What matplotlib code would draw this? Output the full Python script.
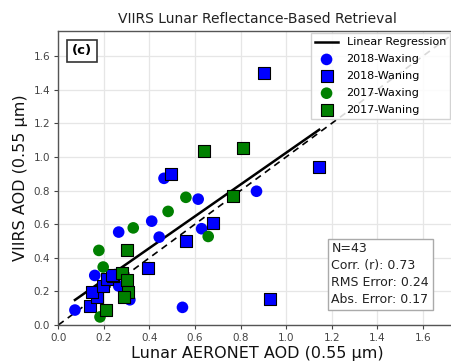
import matplotlib
matplotlib.use("Agg")
import matplotlib.pyplot as plt
import numpy as np

# Lunar AERONET AOD (x) vs VIIRS AOD (y), 0.55 um
waxing_2018_x = [0.073, 0.160, 0.250, 0.265, 0.314, 0.265, 0.410, 0.443, 0.464, 0.614, 0.629, 0.870, 0.545]
waxing_2018_y = [0.089, 0.295, 0.300, 0.232, 0.150, 0.553, 0.618, 0.523, 0.873, 0.749, 0.573, 0.796, 0.105]

waning_2018_x = [0.139, 0.171, 0.148, 0.197, 0.215, 0.240, 0.395, 0.560, 0.677, 0.493, 0.902, 1.145, 0.930, 0.235]
waning_2018_y = [0.116, 0.165, 0.195, 0.234, 0.271, 0.290, 0.340, 0.500, 0.610, 0.899, 1.501, 0.938, 0.152, 0.300]

waxing_2017_x = [0.178, 0.197, 0.183, 0.329, 0.482, 0.560, 0.658]
waxing_2017_y = [0.444, 0.345, 0.048, 0.578, 0.676, 0.760, 0.527]

waning_2017_x = [0.300, 0.280, 0.300, 0.307, 0.290, 0.209, 0.639, 0.809, 0.767]
waning_2017_y = [0.449, 0.308, 0.265, 0.197, 0.168, 0.087, 1.037, 1.053, 0.770]

# Linear regression of VIIRS on AERONET
reg_slope = 0.945
reg_intercept = 0.08

stats_lines = ["N=43", "Corr. (r): 0.73", "RMS Error: 0.24", "Abs. Error: 0.17"]

fig = plt.figure(figsize=(4.52, 3.63), dpi=100)
ax = fig.add_axes([0.129, 0.1047, 0.882, 0.81])

axis_max = 1.75
ax.set_xlim(0, axis_max)
ax.set_ylim(0, axis_max)
ax.set_xticks(np.arange(0, 1.61, 0.2))
ax.set_yticks(np.arange(0, 1.61, 0.2))
ax.grid(True, color="#e6e6e6", linewidth=0.9, zorder=0)
ax.set_axisbelow(True)

all_x = waxing_2018_x + waning_2018_x + waxing_2017_x + waning_2017_x
xr = np.array([min(all_x), max(all_x)])
ax.plot(xr, reg_intercept + reg_slope * xr, color="black", lw=1.8,
        label="Linear Regression", zorder=2)
ax.plot([0, axis_max], [0, axis_max], color="black", lw=1.2,
        linestyle=(0, (4, 3)), zorder=2)

ax.scatter(waxing_2018_x, waxing_2018_y, s=70, marker="o", color="#0000ff",
           edgecolors="none", label="2018-Waxing", zorder=3)
ax.scatter(waning_2018_x, waning_2018_y, s=64, marker="s", color="#0000ff",
           edgecolors="black", linewidths=0.8, label="2018-Waning", zorder=3)
ax.scatter(waxing_2017_x, waxing_2017_y, s=70, marker="o", color="#008000",
           edgecolors="none", label="2017-Waxing", zorder=3)
ax.scatter(waning_2017_x, waning_2017_y, s=64, marker="s", color="#008000",
           edgecolors="black", linewidths=0.8, label="2017-Waning", zorder=3)

ax.set_title("VIIRS Lunar Reflectance-Based Retrieval", fontsize=10, pad=6,
             color="#222222")
ax.set_xlabel("Lunar AERONET AOD (0.55 µm)", fontsize=11.5, labelpad=2,
              color="#111111")
ax.set_ylabel("VIIRS AOD (0.55 µm)", fontsize=11.5, labelpad=4, color="#111111")

ax.tick_params(axis="both", labelsize=7.5, colors="#444444", length=3, width=0.8,
               pad=3)
for sp in ax.spines.values():
    sp.set_color("#555555")
    sp.set_linewidth(1.0)

leg = ax.legend(loc="upper left", bbox_to_anchor=(311 / 452, 1 - 33 / 363),
                bbox_transform=fig.transFigure, borderaxespad=0,
                fontsize=8, frameon=True, fancybox=False, framealpha=0.85,
                edgecolor="#cccccc", handlelength=2.0, labelspacing=0.62,
                scatterpoints=1)

ax.text(0.059, 0.932, "(c)", transform=ax.transAxes, ha="center", va="center",
        fontsize=9.5, fontweight="bold",
        bbox=dict(boxstyle="square,pad=0.35", facecolor="white",
                  edgecolor="#333333", linewidth=1.2), zorder=5)

ax.text(0.685, 0.065, "\n".join(stats_lines), transform=ax.transAxes,
        ha="left", va="bottom", fontsize=9, color="#222222", linespacing=1.38,
        bbox=dict(boxstyle="square,pad=0.3", facecolor="white",
                  edgecolor="#aaaaaa", linewidth=1.0), zorder=5)

fig.savefig("out.png", dpi=100)
